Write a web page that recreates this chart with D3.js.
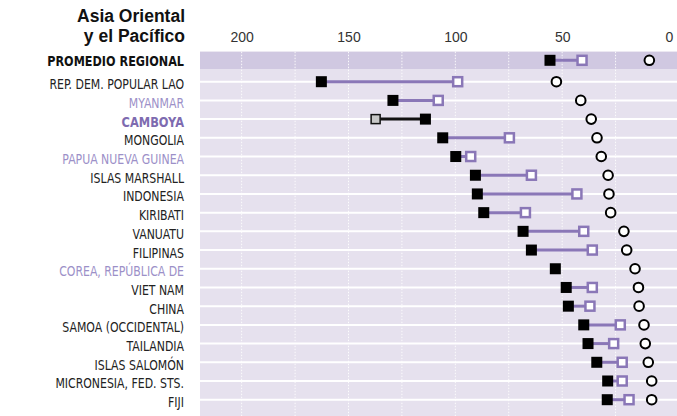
<!DOCTYPE html>
<html><head><meta charset="utf-8">
<script src="https://cdn.jsdelivr.net/npm/d3@7"></script>
<style>
body{margin:0;background:#fff;}
svg{display:block;}
.lbl{font-family:"Liberation Sans Narrow","DejaVu Sans Condensed",sans-serif;}
</style></head>
<body><svg id="c" width="677" height="416"></svg>
<script>
// ---- data ----
const countries = ["REP. DEM. POPULAR LAO","MYANMAR","CAMBOYA","MONGOLIA","PAPUA NUEVA GUINEA","ISLAS MARSHALL","INDONESIA","KIRIBATI","VANUATU","FILIPINAS","COREA, REPÚBLICA DE","VIET NAM","CHINA","SAMOA (OCCIDENTAL)","TAILANDIA","ISLAS SALOMÓN","MICRONESIA, FED. STS.","FIJI"];
const labelStyle = ["n","p","pb","n","p","n","n","n","n","n","p","n","n","n","n","n","n","n"];
const value1990 = [162.7,129.2,114,105.9,99.8,90.6,89.7,86.7,68.3,64.4,53.2,48.1,47.1,39.9,37.9,33.8,28.7,28.9];
const value2003 = [98.9,108,137.3,74.7,92.8,64.4,43.1,67.2,39.9,35.9,null,35.9,37.0,22.8,25.9,21.9,21.9,18.7];
const target2015 = [52.7,41.3,36.4,33.7,31.7,28.5,28.1,27.3,21.1,19.8,15.9,14.3,14.0,11.7,11.1,9.7,8.1,8.1];
const regional = {label:"PROMEDIO REGIONAL", v1990:55.7, v2003:40.7, target:9.2};
const tickLabels = [200,150,100,50,0];
const gridValues = [200,175,150,125,100,75,50,25];
const titleLines = ["Asia Oriental","y el Pacífico"];

// ---- layout ----
const W=677,H=416, plotL=200, plotTop=51.7, regBottom=69;
const svg=d3.select("#c");
const x=d3.scaleLinear().domain([219.5,0]).range([plotL,669]);
const y=d3.scalePoint().domain(countries).range([81.7,399.7]);
const regY=60.3;
const purple="#8a77b7", purpleLbl="#9c90c8", purpleBold="#7e6bb0";

svg.append("rect").attr("x",plotL).attr("y",plotTop).attr("width",W-plotL).attr("height",H-plotTop).attr("fill","#e6e1ee");
svg.append("rect").attr("x",plotL).attr("y",plotTop).attr("width",W-plotL).attr("height",regBottom-plotTop).attr("fill","#d0c8e1");

// row lines
svg.append("g").selectAll("line").data(countries).join("line")
  .attr("x1",plotL).attr("x2",W).attr("y1",d=>y(d)).attr("y2",d=>y(d))
  .attr("stroke","#fff").attr("stroke-width",2);
// vertical grid
svg.append("g").selectAll("line").data(gridValues).join("line")
  .attr("x1",d=>x(d)).attr("x2",d=>x(d)).attr("y1",plotTop).attr("y2",H)
  .attr("stroke","#fff").attr("stroke-width",1).attr("stroke-dasharray","1.5,1.5").attr("opacity",0.9);

// axis labels
const ax=svg.append("g").attr("transform","translate(0,45)")
  .call(d3.axisTop(x).tickValues(tickLabels).tickSize(0).tickPadding(3));
ax.select(".domain").remove();
ax.selectAll("text").attr("font-family","Liberation Sans, sans-serif").attr("font-size",14).attr("fill","#333");

// title
svg.append("g").selectAll("text").data(titleLines).join("text")
  .attr("x",185).attr("y",(d,i)=>21.7+i*20.5).attr("text-anchor","end")
  .attr("font-family","Liberation Sans, sans-serif").attr("font-weight","bold").attr("font-size",17.5).attr("fill","#111").text(d=>d);

// labels
svg.append("text").attr("class","lbl").attr("transform","translate(184,65.5) scale(0.925,1)").attr("text-anchor","end")
  .attr("font-size",13.5).attr("font-weight","bold").attr("fill","#111").text(regional.label);
svg.append("g").selectAll("text").data(countries).join("text").attr("class","lbl")
  .attr("transform",(d,i)=>`translate(184,${y(d)+7.5}) scale(${labelStyle[i]==="pb"?0.94:0.9},1)`)
  .attr("text-anchor","end").attr("font-size",13.5)
  .attr("font-weight",(d,i)=>labelStyle[i]==="pb"?"bold":"normal")
  .attr("fill",(d,i)=>labelStyle[i]==="n"?"#222":(labelStyle[i]==="pb"?purpleBold:purpleLbl))
  .text(d=>d);

// marks
const rows=countries.map((c,i)=>({y:y(c),a:value1990[i],b:value2003[i],t:target2015[i]}));
rows.unshift({y:regY,a:regional.v1990,b:regional.v2003,t:regional.target});
const g=svg.append("g");
const s=11;
rows.forEach(r=>{
  const worse = r.b!=null && r.b>r.a;
  if(r.b!=null){
    g.append("line").attr("x1",x(r.a)).attr("x2",x(r.b)).attr("y1",r.y).attr("y2",r.y)
     .attr("stroke",worse?"#111":purple).attr("stroke-width",3);
  }
  g.append("circle").attr("cx",x(r.t)).attr("cy",r.y).attr("r",4.8)
    .attr("fill","#fff").attr("stroke","#000").attr("stroke-width",2);
  if(r.b!=null){
    g.append("rect").attr("x",x(r.b)-s/2+1).attr("y",r.y-s/2+1).attr("width",s-2).attr("height",s-2)
     .attr("fill",worse?"#c8c8c8":"#fff").attr("stroke",worse?"#111":purple).attr("stroke-width",worse?1.5:2.5);
  }
  g.append("rect").attr("x",x(r.a)-s/2).attr("y",r.y-s/2).attr("width",s).attr("height",s).attr("fill","#000");
});
</script></body></html>
